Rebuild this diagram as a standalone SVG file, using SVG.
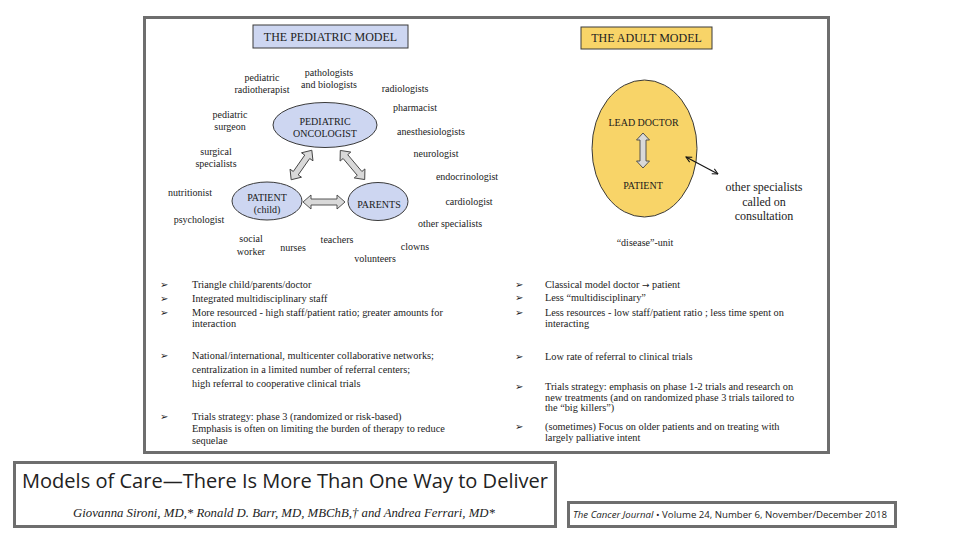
<svg xmlns="http://www.w3.org/2000/svg" width="960" height="540" viewBox="0 0 960 540">
<style>
.frame{fill:#fff;stroke:#6e6e6e;stroke-width:3}
.t{font-family:"Liberation Serif","Times New Roman",serif;fill:#222}
.lbl{font-size:10px;text-anchor:middle}
.cap{font-size:10px;text-anchor:middle;fill:#1a1a1a}
.bul{font-size:10.3px}
.mk{font-family:"DejaVu Sans",sans-serif;font-size:10px;fill:#222}
.blue{fill:#cdd6f1;stroke:#3a3a3a;stroke-width:1}
.gold{fill:#f8d468;stroke:#3a3a3a;stroke-width:1}
.blk{fill:#d9d9d9;stroke:#444;stroke-width:0.9}
.thin{stroke:#111;stroke-width:1.1;fill:none}
.sans{font-family:"Open Sans","Liberation Sans",sans-serif;fill:#222}
</style>
<defs>
<marker id="ah" viewBox="0 0 10 10" refX="9" refY="5" markerWidth="7" markerHeight="7" orient="auto-start-reverse" markerUnits="userSpaceOnUse">
<path d="M1,1 L9,5 L1,9" fill="none" stroke="#111" stroke-width="1.4"/>
</marker>
</defs>
<rect width="960" height="540" fill="#fff"/>
<rect class="frame" x="144.5" y="17.5" width="684" height="435"/>

<g id="pediatric-title">
<rect x="253" y="25" width="155" height="23" fill="#cdd6f1" stroke="#3a3a3a" stroke-width="1"/>
<text class="t" x="330.5" y="41" font-size="12" text-anchor="middle">THE PEDIATRIC MODEL</text>
</g>
<g id="adult-title">
<rect x="581" y="27" width="131" height="22" fill="#f8d468" stroke="#3a3a3a" stroke-width="1"/>
<text class="t" x="646.5" y="42" font-size="12" text-anchor="middle">THE ADULT MODEL</text>
</g>

<g id="oncologist">
<ellipse class="blue" cx="325" cy="125" rx="52" ry="22.5"/>
<text class="t cap" x="325" y="125">PEDIATRIC</text>
<text class="t cap" x="325" y="137">ONCOLOGIST</text>
</g>
<g id="patient-child">
<ellipse class="blue" cx="267" cy="201" rx="35" ry="19"/>
<text class="t cap" x="267" y="200.5">PATIENT</text>
<text class="t cap" x="267" y="213">(child)</text>
</g>
<g id="parents">
<ellipse class="blue" cx="378" cy="201.5" rx="30" ry="19"/>
<text class="t cap" x="379" y="208">PARENTS</text>
</g>

<g id="pediatric-labels">
<text class="t lbl" x="262" y="81">pediatric</text>
<text class="t lbl" x="262" y="93">radiotherapist</text>
<text class="t lbl" x="329" y="76">pathologists</text>
<text class="t lbl" x="329" y="88">and biologists</text>
<text class="t lbl" x="405" y="92">radiologists</text>
<text class="t lbl" x="415" y="111">pharmacist</text>
<text class="t lbl" x="230" y="118">pediatric</text>
<text class="t lbl" x="230" y="130">surgeon</text>
<text class="t lbl" x="431" y="135">anesthesiologists</text>
<text class="t lbl" x="216" y="155">surgical</text>
<text class="t lbl" x="216" y="167">specialists</text>
<text class="t lbl" x="436" y="157">neurologist</text>
<text class="t lbl" x="467" y="180">endocrinologist</text>
<text class="t lbl" x="190" y="196">nutritionist</text>
<text class="t lbl" x="469" y="205">cardiologist</text>
<text class="t lbl" x="199" y="223">psychologist</text>
<text class="t lbl" x="450" y="227">other specialists</text>
<text class="t lbl" x="251" y="242">social</text>
<text class="t lbl" x="251" y="255">worker</text>
<text class="t lbl" x="293" y="251">nurses</text>
<text class="t lbl" x="337" y="243">teachers</text>
<text class="t lbl" x="375" y="262">volunteers</text>
<text class="t lbl" x="415" y="250">clowns</text>
</g>

<g id="adult-unit">
<ellipse class="gold" cx="644.5" cy="148.5" rx="52.5" ry="68.5"/>
<text class="t cap" x="643.5" y="126">LEAD DOCTOR</text>
<text class="t cap" x="643" y="189">PATIENT</text>
</g>
<g id="adult-labels">
<text class="t" x="764" y="191" font-size="12" text-anchor="middle">other specialists</text>
<text class="t" x="764" y="206" font-size="12" text-anchor="middle">called on</text>
<text class="t" x="764" y="220" font-size="12" text-anchor="middle">consultation</text>
<text class="t" x="645" y="246" font-size="10" text-anchor="middle">“disease”-unit</text>
</g>

<g id="connectors">
<path class="blk" transform="translate(301.5,165) rotate(125)" d="M-18,0 L-10,-7 L-10,-3 L10,-3 L10,-7 L18,0 L10,7 L10,3 L-10,3 L-10,7Z"/>
<path class="blk" transform="translate(352.5,165) rotate(50)" d="M-19,0 L-11,-7 L-11,-3 L11,-3 L11,-7 L19,0 L11,7 L11,3 L-11,3 L-11,7Z"/>
<path class="blk" transform="translate(324,202)" d="M-21,0 L-13,-7 L-13,-3 L13,-3 L13,-7 L21,0 L13,7 L13,3 L-13,3 L-13,7Z"/>
<path class="blk" transform="translate(643,150.5) rotate(90)" d="M-17.5,0 L-10.5,-6.5 L-10.5,-3 L10.5,-3 L10.5,-6.5 L17.5,0 L10.5,6.5 L10.5,3 L-10.5,3 L-10.5,6.5Z"/>
<line class="thin" x1="686" y1="157" x2="718" y2="174" marker-start="url(#ah)" marker-end="url(#ah)"/>
</g>

<g id="pediatric-bullets">
<text class="mk" x="160" y="288">➢</text>
<text class="t bul" x="192" y="288">Triangle child/parents/doctor</text>
<text class="mk" x="160" y="302">➢</text>
<text class="t bul" x="192" y="302">Integrated multidisciplinary staff</text>
<text class="mk" x="160" y="316">➢</text>
<text class="t bul" x="192" y="316">More resourced - high staff/patient ratio; greater amounts for</text>
<text class="t bul" x="192" y="327">interaction</text>
<text class="mk" x="160" y="359">➢</text>
<text class="t bul" x="192" y="359">National/international, multicenter collaborative networks;</text>
<text class="t bul" x="192" y="373">centralization in a limited number of referral centers;</text>
<text class="t bul" x="192" y="387">high referral to cooperative clinical trials</text>
<text class="mk" x="160" y="420">➢</text>
<text class="t bul" x="192" y="420">Trials strategy: phase 3 (randomized or risk-based)</text>
<text class="t bul" x="192" y="432">Emphasis is often on limiting the burden of therapy to reduce</text>
<text class="t bul" x="192" y="444">sequelae</text>
</g>

<g id="adult-bullets">
<text class="mk" x="515" y="288">➢</text>
<text class="t bul" x="545" y="288">Classical model doctor <tspan font-family="DejaVu Sans, sans-serif" font-size="9">→</tspan> patient</text>
<text class="mk" x="515" y="301">➢</text>
<text class="t bul" x="545" y="301">Less “multidisciplinary”</text>
<text class="mk" x="515" y="316">➢</text>
<text class="t bul" x="545" y="316">Less resources - low staff/patient ratio ; less time spent on</text>
<text class="t bul" x="545" y="327">interacting</text>
<text class="mk" x="515" y="360">➢</text>
<text class="t bul" x="545" y="360">Low rate of referral to clinical trials</text>
<text class="mk" x="515" y="390">➢</text>
<text class="t bul" x="545" y="390">Trials strategy: emphasis on phase 1-2 trials and research on</text>
<text class="t bul" x="545" y="401">new treatments (and on randomized phase 3 trials tailored to</text>
<text class="t bul" x="545" y="411">the “big killers”)</text>
<text class="mk" x="515" y="430">➢</text>
<text class="t bul" x="545" y="430">(sometimes) Focus on older patients and on treating with</text>
<text class="t bul" x="545" y="441">largely palliative intent</text>
</g>

<g id="article-title">
<rect class="frame" x="14.5" y="462.5" width="541" height="64"/>
<text class="sans" x="22" y="488" font-size="20" textLength="526" lengthAdjust="spacingAndGlyphs">Models of Care—There Is More Than One Way to Deliver</text>
<text class="t" x="73" y="517" font-size="11.5" font-style="italic" textLength="422" lengthAdjust="spacingAndGlyphs">Giovanna Sironi, MD,* Ronald D. Barr, MD, MBChB,† and Andrea Ferrari, MD*</text>
</g>
<g id="journal">
<rect class="frame" x="568.5" y="502.5" width="327" height="24"/>
<text class="sans" x="573" y="518" font-size="9" textLength="314" lengthAdjust="spacingAndGlyphs"><tspan font-style="italic">The Cancer Journal</tspan> • Volume 24, Number 6, November/December 2018</text>
</g>
</svg>
